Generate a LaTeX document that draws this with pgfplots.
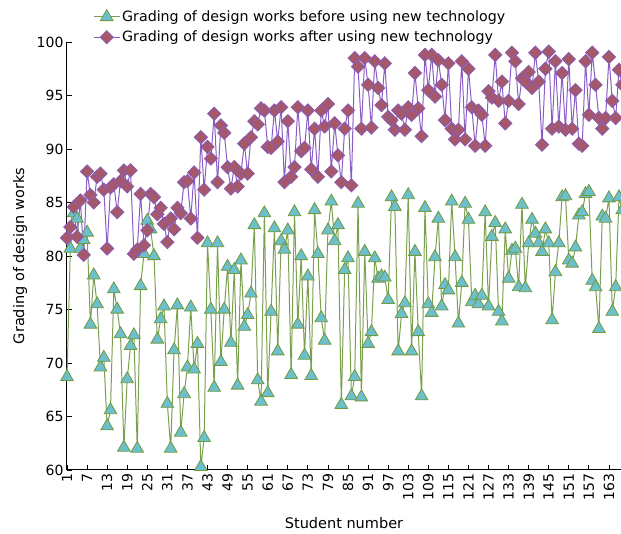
\documentclass[border=0pt]{standalone}
\usepackage{fontspec}
\setmainfont{DejaVu Sans}
\usepackage{pgfplots}
\pgfplotsset{compat=1.18}
\usepackage{pgfplotstable}

\definecolor{trifill}{HTML}{6CBFCC}
\definecolor{triedge}{HTML}{6F9A3E}
\definecolor{greenline}{HTML}{7AA04E}
\definecolor{diafill}{HTML}{A5586A}
\definecolor{diaedge}{HTML}{8A5CB8}
\definecolor{purpleline}{HTML}{8A5CC4}

% s = student number, before / after = grading of design works
\pgfplotstableread{
s before after
1 68.7 81.7
2 80.7 82.7
3 84.0 84.6
4 83.5 81.8
5 80.7 85.2
6 81.5 80.1
7 82.2 87.9
8 73.6 85.7
9 78.2 85.0
10 75.5 87.4
11 69.6 87.7
12 70.5 86.2
13 64.1 80.7
14 65.6 86.4
15 76.9 86.7
16 75.0 84.1
17 72.7 87.0
18 62.1 88.0
19 68.5 86.5
20 71.6 88.0
21 72.6 80.2
22 62.0 80.6
23 77.2 85.8
24 80.2 81.0
25 83.3 82.4
26 82.5 85.8
27 80.0 85.5
28 72.2 83.9
29 74.1 84.5
30 75.3 83.0
31 66.2 81.3
32 62.0 83.5
33 71.2 82.5
34 75.4 84.5
35 63.5 84.0
36 67.1 86.9
37 69.6 87.0
38 75.2 83.5
39 69.4 87.8
40 71.8 81.7
41 60.3 91.1
42 63.0 86.2
43 81.2 90.2
44 75.0 89.1
45 67.7 93.3
46 81.2 86.9
47 70.1 92.2
48 75.0 91.5
49 79.0 88.3
50 71.9 86.3
51 78.7 88.3
52 67.9 86.5
53 79.6 87.7
54 73.4 90.5
55 74.5 87.7
56 76.5 91.1
57 82.9 92.6
58 68.4 92.3
59 66.4 93.8
60 84.0 93.6
61 67.2 90.2
62 74.8 90.1
63 82.6 93.6
64 71.1 90.7
65 81.4 93.9
66 80.6 86.9
67 82.4 92.6
68 68.9 87.4
69 84.1 88.3
70 73.6 93.9
71 80.0 89.8
72 70.7 90.1
73 78.1 93.6
74 68.8 88.1
75 84.3 91.9
76 80.2 87.4
77 74.2 93.6
78 72.1 92.1
79 82.4 94.2
80 85.1 87.9
81 81.4 92.4
82 82.9 89.4
83 66.1 86.9
84 78.7 91.9
85 79.8 93.6
86 66.9 86.6
87 68.7 98.5
88 84.9 97.7
89 66.8 91.9
90 80.4 98.5
91 71.8 96.0
92 72.9 92.0
93 79.8 98.2
94 77.9 95.7
95 78.1 94.1
96 78.0 98.0
97 75.9 93.0
98 85.5 92.7
99 84.6 91.8
100 71.1 93.6
101 74.6 93.3
102 75.6 91.8
103 85.7 93.9
104 71.1 93.2
105 80.4 97.1
106 72.9 93.8
107 66.9 91.2
108 84.5 98.8
109 75.5 95.5
110 74.7 98.8
111 79.9 94.9
112 83.5 98.3
113 75.3 96.0
114 77.3 92.7
115 76.8 98.0
116 85.1 91.9
117 79.9 90.9
118 73.7 91.8
119 77.5 98.2
120 84.9 90.9
121 83.4 97.5
122 75.7 93.9
123 76.3 90.3
124 75.5 93.6
125 76.3 93.2
126 84.1 90.3
127 75.3 95.4
128 81.8 94.8
129 83.1 98.8
130 74.8 94.5
131 73.9 96.3
132 82.5 92.4
133 77.9 94.5
134 80.5 99.0
135 80.7 98.2
136 77.1 94.2
137 84.8 96.6
138 77.0 96.3
139 81.2 97.2
140 83.4 95.7
141 82.1 99.0
142 81.2 96.3
143 80.4 90.4
144 82.5 97.5
145 81.2 99.1
146 74.0 91.9
147 78.5 98.2
148 81.2 92.1
149 85.5 97.1
150 85.6 91.8
151 79.6 98.4
152 79.3 91.9
153 80.8 95.5
154 83.8 90.5
155 84.1 90.3
156 85.8 98.2
157 86.0 93.2
158 77.7 99.0
159 77.1 96.0
160 73.2 92.9
161 83.7 91.9
162 83.5 92.9
163 85.4 98.6
164 74.8 94.5
165 77.1 92.9
166 85.5 97.4
167 84.3 96.0
}\grades

\begin{document}
\begin{tikzpicture}
\begin{axis}[
  at={(0,0)}, anchor=south west,
  scale only axis, width=554pt, height=428pt,
  xmin=1, xmax=166.6, ymin=60, ymax=100,
  clip=false,
  axis x line*=bottom, axis y line*=left,
  axis line style={black, line width=1pt},
  xtick={1,7,...,163}, ytick={60,65,...,100},
  tick align=inside, major tick length=5pt,
  tick style={black, line width=0.8pt},
  /pgf/number format/assume math mode=true,
  ticklabel style={font=\fontsize{14}{16}\selectfont},
  x tick label style={rotate=90, anchor=east},
  xlabel={Student number}, ylabel={Grading of design works},
  label style={font=\fontsize{14.5}{17}\selectfont},
  xlabel style={at={(rel axis cs:0.5,-0.1238)}, anchor=center},
  ylabel style={at={(rel axis cs:-0.0848,0.5)}, anchor=center},
  legend style={at={(rel axis cs:0.047,1.078)}, anchor=north west,
    draw=none, fill=none, font=\fontsize{14.2}{16}\selectfont,
    inner sep=0pt, row sep=4pt},
  legend cell align=left,
  legend image code/.code={\draw[mark repeat=2,mark phase=2,#1]
    plot coordinates {(0pt,0pt) (13pt,0pt) (26pt,0pt)};},
]
\addplot[greenline, line width=1pt, mark=triangle*, mark size=7.3pt,
  mark options={fill=trifill, draw=triedge, line width=0.8pt}]
  table[x=s, y=before] {\grades};
\addlegendentry{Grading of design works before using new technology}
\addplot[purpleline, line width=1pt, mark=square*, mark size=4.7pt,
  mark options={rotate=45, fill=diafill, draw=diaedge, line width=0.8pt}]
  table[x=s, y=after] {\grades};
\addlegendentry{Grading of design works after using new technology}
\end{axis}
\pgfresetboundingbox
\useasboundingbox (-67pt,-64pt) rectangle (554pt,470pt);
\end{tikzpicture}
\end{document}
